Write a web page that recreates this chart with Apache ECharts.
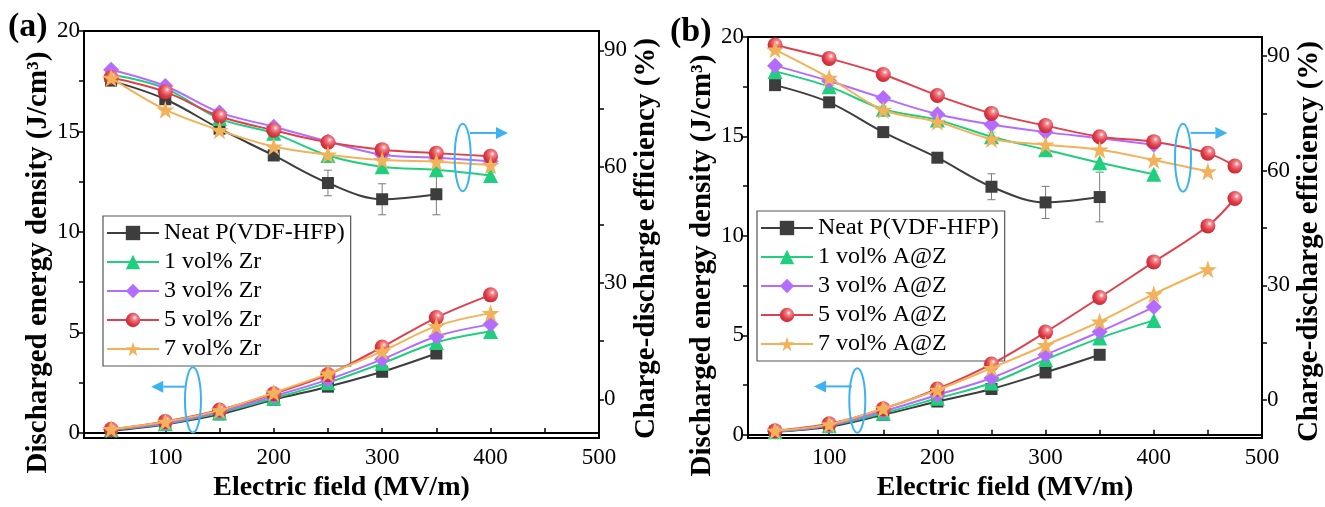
<!DOCTYPE html>
<html>
<head>
<meta charset="utf-8">
<script src="https://cdn.jsdelivr.net/npm/echarts@6/dist/echarts.min.js"></script>
<style>
html,body{margin:0;padding:0;background:#fff;}
#c{width:1325px;height:507px;}
</style>
</head>
<body>
<div id="c"></div>
<script>
// ---------- DATA ----------
const fieldA = [50, 100, 150, 200, 250, 300, 350, 400];
const fieldNeat = [50, 100, 150, 200, 250, 300, 350];
const fieldB5 = [50, 100, 150, 200, 250, 300, 350, 400, 450, 475];
const fieldB7 = [50, 100, 150, 200, 250, 300, 350, 400, 450];

const namesA = ['Neat P(VDF-HFP)', '1 vol% Zr', '3 vol% Zr', '5 vol% Zr', '7 vol% Zr'];
const namesB = ['Neat P(VDF-HFP)', '1 vol% A@Z', '3 vol% A@Z', '5 vol% A@Z', '7 vol% A@Z'];

// panel (a) discharged energy density (J/cm3)
const neatEnergyA = [0.10, 0.42, 0.92, 1.65, 2.30, 3.04, 3.95];
const zr1Energy = [0.15, 0.45, 1.00, 1.72, 2.50, 3.46, 4.50, 5.04];
const zr3Energy = [0.17, 0.48, 1.05, 1.82, 2.65, 3.66, 4.80, 5.40];
const zr5Energy = [0.18, 0.57, 1.14, 1.95, 2.90, 4.27, 5.74, 6.87];
const zr7Energy = [0.18, 0.55, 1.12, 2.00, 2.95, 4.06, 5.31, 5.96];
// panel (a) efficiency (%)
const neatEffA = [82.2, 77.4, 69.8, 62.9, 55.8, 51.6, 52.9];
const zr1Eff = [83.8, 80.2, 72.4, 68.6, 62.9, 60.0, 59.2, 57.7];
const zr3Eff = [85.0, 80.8, 74.0, 70.3, 66.5, 63.1, 62.3, 61.4];
const zr5Eff = [83.0, 79.3, 73.0, 69.4, 66.3, 64.4, 63.5, 62.7];
const zr7Eff = [82.9, 74.7, 69.4, 65.2, 63.1, 61.7, 61.3, 60.4];
const neatEffErrA = [0.5, 0.8, 1.0, 1.2, 3.3, 4.0, 5.3];
const zr1EffErr = [0.4, 0.6, 0.8, 1.0, 1.8, 1.5, 1.5, 0.8];

// panel (b) discharged energy density (J/cm3)
const neatEnergyB = [0.15, 0.40, 1.00, 1.67, 2.30, 3.13, 4.02];
const az1Energy = [0.15, 0.45, 1.08, 1.83, 2.60, 3.78, 4.86, 5.75];
const az3Energy = [0.18, 0.48, 1.18, 2.00, 2.85, 4.02, 5.18, 6.42];
const az5Energy = [0.20, 0.55, 1.30, 2.30, 3.55, 5.16, 6.90, 8.69, 10.50, 11.88];
const az7Energy = [0.20, 0.52, 1.32, 2.25, 3.35, 4.50, 5.69, 7.07, 8.32];
// panel (b) efficiency (%)
const neatEffB = [82.4, 77.9, 70.1, 63.4, 55.8, 51.7, 53.1];
const az1Eff = [86.0, 82.0, 76.1, 73.3, 68.9, 65.5, 62.1, 59.1];
const az3Eff = [87.5, 83.5, 79.0, 74.8, 72.1, 70.1, 68.5, 66.8];
const az5Eff = [92.9, 89.4, 85.2, 79.7, 75.0, 71.8, 68.9, 67.6, 64.6, 61.2];
const az7Eff = [91.7, 84.3, 75.9, 72.8, 68.3, 66.8, 65.5, 62.8, 59.8];
const neatEffErrB = [0.5, 0.8, 1.3, 1.2, 3.4, 4.2, 6.5];
const az1EffErr = [0.4, 0.6, 0.8, 1.0, 1.2, 1.5, 2.5, 0.8];

// tick labels
const xTicks = [50, 100, 150, 200, 250, 300, 350, 400, 450, 500];
const xLabels = [100, 200, 300, 400, 500];
const energyTicks = [0, 2.5, 5, 7.5, 10, 12.5, 15, 17.5, 20];
const energyLabels = [0, 5, 10, 15, 20];
const effTicks = [0, 15, 30, 45, 60, 75, 90];
const effLabels = [0, 30, 60, 90];

// ---------- STYLE ----------
const FONT = '"Liberation Serif", "Times New Roman", serif';
const colors = ['#3d3d3d', '#1fcf7d', '#b46cff', '#e0404c', '#f2b25a'];
const STAR = 'path://M50,0 L61.8,35.1 L98.9,35.1 L69,57 L80.3,92.1 L50,70.4 L19.7,92.1 L31,57 L1.1,35.1 L38.2,35.1 Z';
const redFill = {
  type: 'radial', x: 0.62, y: 0.35, r: 0.7,
  colorStops: [{offset: 0, color: '#ffffff'}, {offset: 0.22, color: '#f2868c'}, {offset: 0.6, color: '#e0404c'}, {offset: 1, color: '#c4242f'}]
};
const symbols = ['rect', 'triangle', 'diamond', 'circle', STAR];
const symSizes = [12, 15, 16, 15, 18];

function pairs(xs, ys) { return ys.map((v, i) => [xs[i], v]); }
function errs(xs, ys, es) { return ys.map((v, i) => [xs[i], v - es[i], v + es[i]]); }

function lineSeries(name, k, xs, ys, xi, yi) {
  return {
    type: 'line', name: name, xAxisIndex: xi, yAxisIndex: yi,
    data: pairs(xs, ys), smooth: 0.35,
    symbol: symbols[k], symbolSize: symSizes[k],
    lineStyle: {color: colors[k], width: 2},
    itemStyle: {color: k === 3 ? redFill : colors[k], borderWidth: 0},
    z: 3 + k
  };
}
function errSeries(xs, ys, es, xi, yi, col) {
  return {
    type: 'custom', name: 'err', xAxisIndex: xi, yAxisIndex: yi,
    data: errs(xs, ys, es), encode: {x: 0, y: [1, 2]}, z: 2, silent: true,
    renderItem: function (params, api) {
      const x = api.value(0);
      const a = api.coord([x, api.value(1)]);
      const b = api.coord([x, api.value(2)]);
      const w = 4;
      const st = {stroke: col, lineWidth: 1};
      return {type: 'group', children: [
        {type: 'line', shape: {x1: a[0], y1: a[1], x2: b[0], y2: b[1]}, style: st},
        {type: 'line', shape: {x1: a[0] - w, y1: a[1], x2: a[0] + w, y2: a[1]}, style: st},
        {type: 'line', shape: {x1: b[0] - w, y1: b[1], x2: b[0] + w, y2: b[1]}, style: st}
      ]};
    }
  };
}

const axisLineStyle = {show: true, lineStyle: {color: '#000', width: 2}};
const nameStyle = {fontFamily: FONT, fontWeight: 'bold', fontSize: 29, color: '#000'};
function xAxis(gi) {
  return {
    type: 'value', gridIndex: gi, min: 25, max: 500,
    axisLine: axisLineStyle,
    axisTick: {show: true, inside: true, length: 5, customValues: xTicks, lineStyle: {color: '#000', width: 1.5}},
    axisLabel: {customValues: xLabels, fontFamily: FONT, fontSize: 23, color: '#000', margin: 8},
    splitLine: {show: false},
    name: 'Electric field (MV/m)', nameLocation: 'middle', nameGap: 26,
    nameTextStyle: Object.assign({}, nameStyle, {fontSize: 28})
  };
}
function yEnergy(gi, mn) {
  return {
    type: 'value', gridIndex: gi, position: 'left', min: mn, max: 20,
    axisLine: axisLineStyle,
    axisTick: {show: true, length: 5, customValues: energyTicks, lineStyle: {color: '#000', width: 1.5}},
    axisLabel: {customValues: energyLabels, fontFamily: FONT, fontSize: 23, color: '#000', margin: 4},
    splitLine: {show: false},
    name: 'Discharged energy density (J/cm³)', nameLocation: 'middle', nameGap: 31, nameRotate: 90,
    nameTextStyle: Object.assign({padding: [0, 56, 0, 0]}, nameStyle)
  };
}
function yEff(gi) {
  return {
    type: 'value', gridIndex: gi, position: 'right', min: -10, max: 95,
    axisLine: axisLineStyle,
    axisTick: {show: true, length: 5, customValues: effTicks, lineStyle: {color: '#000', width: 1.5}},
    axisLabel: {customValues: effLabels, fontFamily: FONT, fontSize: 23, color: '#000', margin: 5},
    splitLine: {show: false},
    name: 'Charge-discharge efficiency (%)', nameLocation: 'middle', nameGap: 33, nameRotate: 90,
    nameTextStyle: Object.assign({padding: [0, 8, 0, 0]}, nameStyle)
  };
}
function legend(names, left, top) {
  return {
    data: names, orient: 'vertical', left: left, top: top,
    itemWidth: 52, itemHeight: 18, itemGap: 5,
    padding: [5, 6, 5, 3],
    borderColor: '#555', borderWidth: 1.2, backgroundColor: '#fff',
    textStyle: {fontFamily: FONT, fontSize: 24, color: '#000', lineHeight: 24}
  };
}

const energyA = [neatEnergyA, zr1Energy, zr3Energy, zr5Energy, zr7Energy];
const effA = [neatEffA, zr1Eff, zr3Eff, zr5Eff, zr7Eff];
const xsA = [fieldNeat, fieldA, fieldA, fieldA, fieldA];
const energyB = [neatEnergyB, az1Energy, az3Energy, az5Energy, az7Energy];
const effB = [neatEffB, az1Eff, az3Eff, az5Eff, az7Eff];
const xsB = [fieldNeat, fieldA, fieldA, fieldB5, fieldB7];

const series = [];
series.push(errSeries(fieldNeat, neatEffA, neatEffErrA, 0, 1, '#7a7a7a'));
series.push(errSeries(fieldA, zr1Eff, zr1EffErr, 0, 1, '#6fdcaa'));
series.push(errSeries(fieldNeat, neatEffB, neatEffErrB, 1, 3, '#7a7a7a'));
series.push(errSeries(fieldA, az1Eff, az1EffErr, 1, 3, '#6fdcaa'));
for (let k = 0; k < 5; k++) {
  series.push(lineSeries(namesA[k], k, xsA[k], energyA[k], 0, 0));
  series.push(lineSeries(namesA[k], k, xsA[k], effA[k], 0, 1));
}
for (let k = 0; k < 5; k++) {
  series.push(lineSeries(namesB[k], k, xsB[k], energyB[k], 1, 2));
  series.push(lineSeries(namesB[k], k, xsB[k], effB[k], 1, 3));
}

const chart = echarts.init(document.getElementById('c'), null, {renderer: 'canvas'});
chart.setOption({
  animation: false,
  backgroundColor: '#fff',
  grid: [
    {left: 84, top: 31, width: 515, height: 416, show: true, borderColor: '#000', borderWidth: 2},
    {left: 748, top: 37, width: 515, height: 416, show: true, borderColor: '#000', borderWidth: 2}
  ],
  xAxis: [xAxis(0), xAxis(1)],
  yAxis: [yEnergy(0, -0.26), yEff(0), yEnergy(1, -0.17), yEff(1)],
  legend: [legend(namesA, 103, 216), legend(namesB, 757, 211)],
  series: series
});

// ---------- annotations (placed in data coordinates) ----------
const BLUE = '#3db2f2';
// [xAxisIndex, yAxisIndex, ellipse centre x, centre y, half-height (axis units), arrow y, arrow from x, arrow to x]
const annotations = [
  [0, 0, 125.5, 1.64, 1.62, 2.30, 118, 87],
  [0, 1, 374.3, 62.4, 8.7, 68.7, 381, 416],
  [1, 2, 126, 1.72, 1.62, 2.43, 121, 86],
  [1, 3, 427, 63.4, 8.9, 69.9, 434, 468]
];
const gfx = [];
annotations.forEach(function (a) {
  const f = {xAxisIndex: a[0], yAxisIndex: a[1]};
  const c = chart.convertToPixel(f, [a[2], a[3]]);
  const t = chart.convertToPixel(f, [a[2], a[3] + a[4]]);
  const ry = Math.abs(c[1] - t[1]);
  gfx.push({type: 'ellipse', shape: {cx: c[0], cy: c[1], rx: 8, ry: ry}, style: {fill: 'none', stroke: BLUE, lineWidth: 2}, z: 20});
  const p1 = chart.convertToPixel(f, [a[6], a[5]]);
  const p2 = chart.convertToPixel(f, [a[7], a[5]]);
  const dir = p2[0] > p1[0] ? 1 : -1;
  const tipBase = p2[0] - dir * 12;
  gfx.push({type: 'line', shape: {x1: p1[0], y1: p1[1], x2: tipBase, y2: p1[1]}, style: {stroke: BLUE, lineWidth: 2}, z: 20});
  gfx.push({type: 'polygon', shape: {points: [[p2[0], p1[1]], [tipBase, p1[1] - 6], [tipBase, p1[1] + 6]]}, style: {fill: BLUE}, z: 20});
});
gfx.push({type: 'text', left: 8, top: 10, style: {text: '(a)', fontFamily: FONT, fontWeight: 'bold', fontSize: 34, fill: '#000'}, z: 30});
gfx.push({type: 'text', left: 670, top: 15, style: {text: '(b)', fontFamily: FONT, fontWeight: 'bold', fontSize: 34, fill: '#000'}, z: 30});
chart.setOption({graphic: gfx});
</script>
</body>
</html>
